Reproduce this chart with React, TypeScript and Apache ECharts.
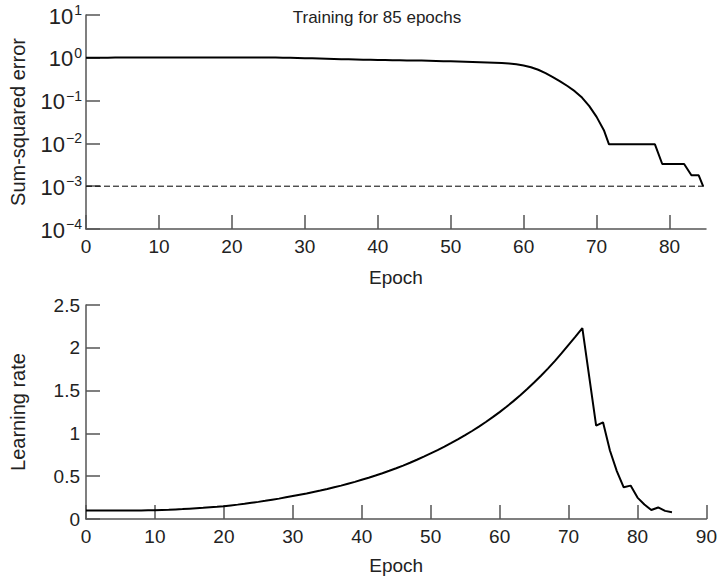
import React, { useEffect, useRef } from "react";
import * as echarts from "echarts";

// Top panel: sum-squared error per epoch
const errorEpochs = [
  0, 1, 2, 3, 4, 5, 6, 7, 8, 9, 10, 11, 12, 13, 14, 15, 16, 17, 18, 19, 20,
  21, 22, 23, 24, 25, 26, 27, 28, 29, 30, 31, 32, 33, 34, 35, 36, 37, 38, 39,
  40, 41, 42, 43, 44, 45, 46, 47, 48, 49, 50, 51, 52, 53, 54, 55, 56, 57, 58,
  59, 60, 61, 62, 63, 64, 65, 66, 67, 68, 69, 70, 71, 71.7, 73, 74, 75, 76, 77,
  78, 79, 80, 81, 82, 83, 84, 84.6,
];
const errorValues = [
  1.0, 1.003, 1.006, 1.009, 1.012, 1.015, 1.017, 1.019, 1.02, 1.021, 1.022,
  1.022, 1.022, 1.022, 1.022, 1.022, 1.022, 1.022, 1.022, 1.021, 1.021, 1.02,
  1.02, 1.019, 1.018, 1.016, 1.012, 1.006, 0.998, 0.99, 0.98, 0.97, 0.96, 0.95,
  0.94, 0.93, 0.92, 0.91, 0.9, 0.895, 0.89, 0.885, 0.88, 0.875, 0.87, 0.865,
  0.86, 0.852, 0.845, 0.836, 0.826, 0.816, 0.806, 0.796, 0.786, 0.776, 0.766,
  0.755, 0.74, 0.708, 0.661, 0.603, 0.525, 0.437, 0.355, 0.282, 0.219, 0.166,
  0.1175, 0.0741, 0.0417, 0.0204, 0.0095, 0.0095, 0.0095, 0.0095, 0.0095,
  0.0095, 0.0095, 0.0033, 0.0033, 0.0033, 0.0033, 0.0018, 0.0018, 0.001,
];
const errorGoal = 0.001;
const errorGoalRange = [0, 85];

// Bottom panel: learning rate per epoch
const lrEpochs = [
  0, 1, 2, 3, 4, 5, 6, 7, 8, 9, 10, 11, 12, 13, 14, 15, 16, 17, 18, 19, 20,
  21, 22, 23, 24, 25, 26, 27, 28, 29, 30, 31, 32, 33, 34, 35, 36, 37, 38, 39,
  40, 41, 42, 43, 44, 45, 46, 47, 48, 49, 50, 51, 52, 53, 54, 55, 56, 57, 58,
  59, 60, 61, 62, 63, 64, 65, 66, 67, 68, 69, 70, 71, 72, 73, 74, 75, 76, 77,
  78, 79, 80, 81, 82, 83, 84, 85,
];
const lrValues = [
  0.1, 0.1, 0.1, 0.1, 0.1, 0.1, 0.1, 0.1, 0.1, 0.101, 0.102, 0.105, 0.108,
  0.112, 0.116, 0.121, 0.126, 0.131, 0.137, 0.143, 0.15, 0.159, 0.168, 0.178,
  0.189, 0.2, 0.212, 0.225, 0.238, 0.253, 0.268, 0.283, 0.298, 0.315, 0.332,
  0.35, 0.37, 0.39, 0.412, 0.434, 0.458, 0.482, 0.508, 0.535, 0.563, 0.593,
  0.624, 0.657, 0.692, 0.729, 0.767, 0.805, 0.845, 0.888, 0.932, 0.979, 1.028,
  1.079, 1.133, 1.19, 1.249, 1.311, 1.377, 1.446, 1.518, 1.594, 1.674, 1.757,
  1.845, 1.937, 2.034, 2.13, 2.23, 1.66, 1.09, 1.13, 0.8, 0.56, 0.37, 0.39,
  0.25, 0.17, 0.105, 0.135, 0.095, 0.08,
];

const topXTicks = [0, 10, 20, 30, 40, 50, 60, 70, 80];
const bottomXTicks = [0, 10, 20, 30, 40, 50, 60, 70, 80, 90];
const titleText = "Training for 85 epochs";

const FONT = "Liberation Sans";
const AXIS_COLOR = "#555";
const TEXT_COLOR = "#222";

export default function App() {
  const ref = useRef<HTMLDivElement>(null);
  useEffect(() => {
    document.body.style.margin = "0";
    const chart = echarts.init(ref.current!, undefined, { renderer: "svg" });
    const axisLine = { lineStyle: { color: AXIS_COLOR, width: 1.5 } };
    const axisTick = {
      inside: true,
      length: 14,
      lineStyle: { color: AXIS_COLOR, width: 1.5 },
    };
    const labelBase = { color: TEXT_COLOR, fontFamily: FONT, fontSize: 19 };
    const nameStyle = { color: TEXT_COLOR, fontFamily: FONT, fontSize: 19 };
    const yNameStyle = { color: TEXT_COLOR, fontFamily: FONT, fontSize: 20 };
    const sup = (v: number) => {
      const e = Math.round(Math.log10(v));
      const s = e < 0 ? "\u2212" + Math.abs(e) : String(e);
      return `{b|10}{s|${s}}`;
    };
    chart.setOption({
      animation: false,
      backgroundColor: "#fff",
      title: {
        text: titleText,
        left: 372,
        textAlign: "center",
        top: 4,
        textStyle: {
          color: TEXT_COLOR,
          fontFamily: FONT,
          fontSize: 17,
          fontWeight: "normal",
        },
      },
      grid: [
        { left: 83, top: 15, width: 623, height: 214 },
        { left: 83, top: 305, width: 624, height: 214 },
      ],
      xAxis: [
        {
          gridIndex: 0,
          type: "value",
          min: 0,
          max: 85,
          interval: 10,
          name: "Epoch",
          nameLocation: "middle",
          nameGap: 39,
          nameTextStyle: nameStyle,
          axisLine,
          axisTick: { ...axisTick, customValues: topXTicks },
          axisLabel: { ...labelBase, margin: 8, customValues: topXTicks },
          splitLine: { show: false },
        },
        {
          gridIndex: 1,
          type: "value",
          min: 0,
          max: 90,
          interval: 10,
          name: "Epoch",
          nameLocation: "middle",
          nameGap: 37,
          nameTextStyle: nameStyle,
          axisLine,
          axisTick: { ...axisTick, customValues: bottomXTicks },
          axisLabel: { ...labelBase, margin: 8, customValues: bottomXTicks },
          splitLine: { show: false },
        },
      ],
      yAxis: [
        {
          gridIndex: 0,
          type: "log",
          logBase: 10,
          min: 0.0001,
          max: 10,
          name: "Sum-squared error",
          nameLocation: "middle",
          nameGap: 58,
          nameTextStyle: yNameStyle,
          axisLine,
          axisTick,
          axisLabel: {
            ...labelBase,
            margin: 4,
            formatter: (v: number) => sup(v),
            rich: {
              b: { fontFamily: FONT, fontSize: 22, color: TEXT_COLOR, lineHeight: 24, verticalAlign: "bottom" },
              s: { fontFamily: FONT, fontSize: 14, color: TEXT_COLOR, lineHeight: 24, verticalAlign: "top", padding: [0, 0, 8, 1] },
            },
          },
          splitLine: { show: false },
        },
        {
          gridIndex: 1,
          type: "value",
          min: 0,
          max: 2.5,
          interval: 0.5,
          name: "Learning rate",
          nameLocation: "middle",
          nameGap: 58,
          nameTextStyle: yNameStyle,
          axisLine,
          axisTick,
          axisLabel: { ...labelBase, margin: 6 },
          splitLine: { show: false },
        },
      ],
      series: [
        {
          type: "line",
          xAxisIndex: 0,
          yAxisIndex: 0,
          data: errorEpochs.map((e, i) => [e, errorValues[i]]),
          showSymbol: false,
          lineStyle: { color: "#000", width: 2 },
        },
        {
          type: "line",
          xAxisIndex: 0,
          yAxisIndex: 0,
          data: errorGoalRange.map((e) => [e, errorGoal]),
          showSymbol: false,
          lineStyle: { color: "#000", width: 1, type: [6, 3] },
        },
        {
          type: "line",
          xAxisIndex: 1,
          yAxisIndex: 1,
          data: lrEpochs.map((e, i) => [e, lrValues[i]]),
          showSymbol: false,
          lineStyle: { color: "#000", width: 2 },
        },
      ],
    });
    return () => chart.dispose();
  }, []);
  return <div ref={ref} style={{ width: 720, height: 578 }} />;
}
